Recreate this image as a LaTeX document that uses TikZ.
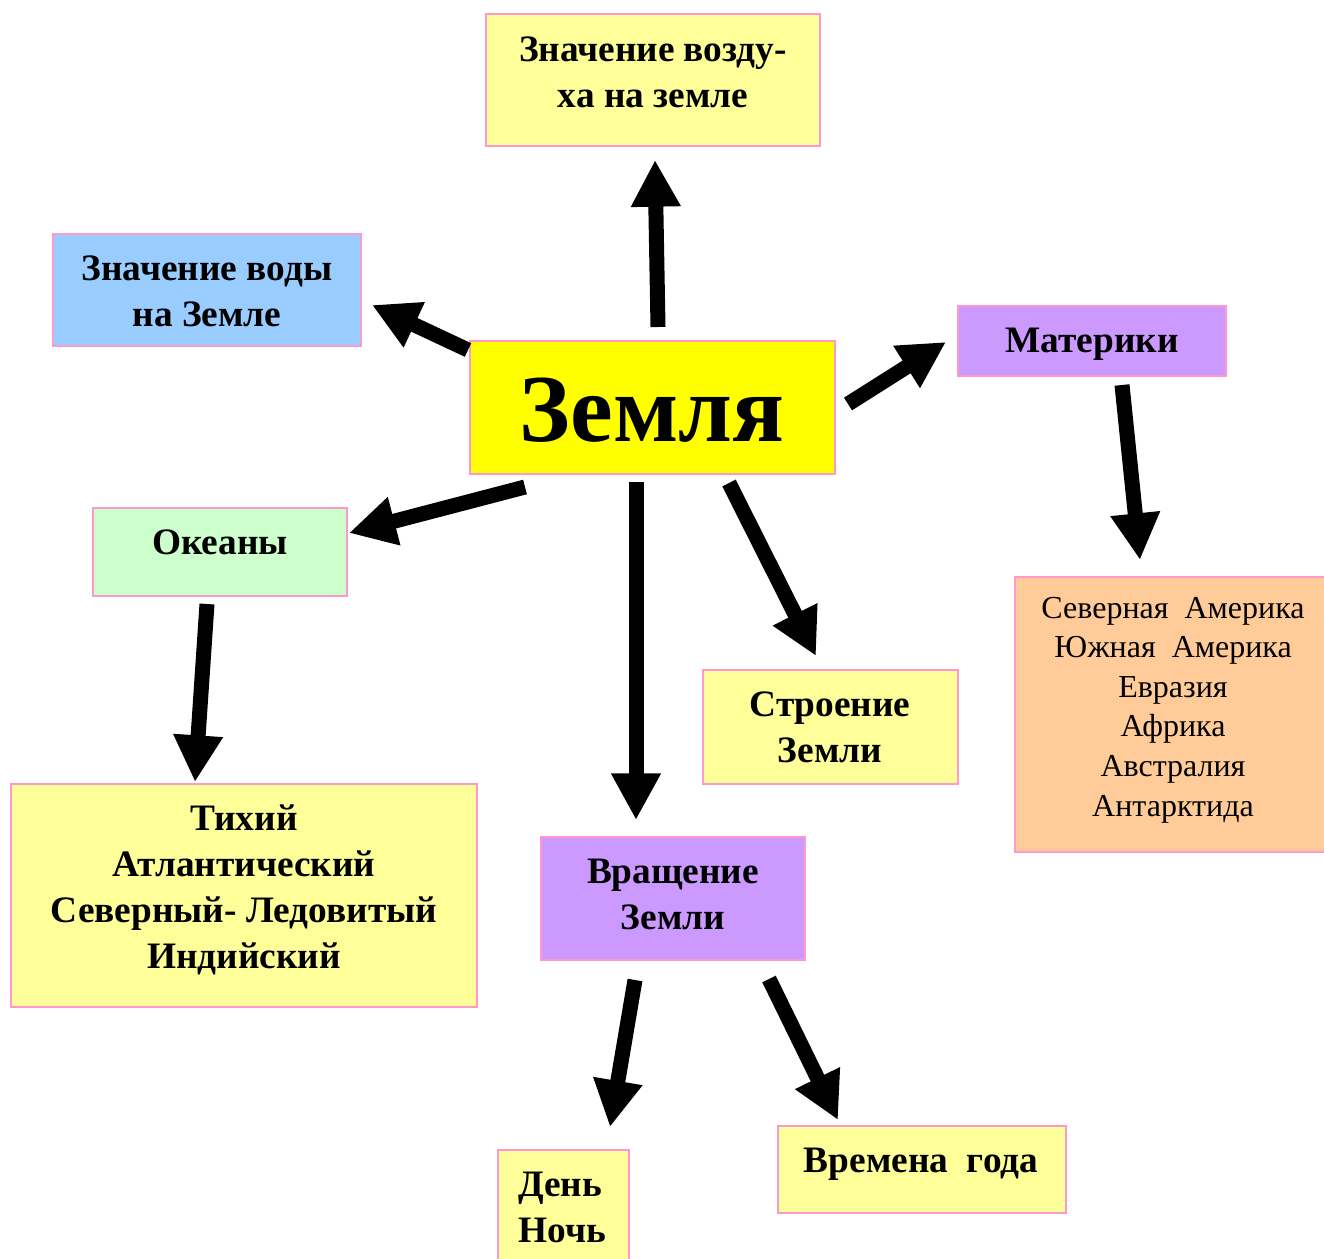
\documentclass[tikz,border=0pt]{standalone}
\usepackage{fontspec}
\setmainfont{Liberation Serif}
\usetikzlibrary{arrows.meta,fit}
\definecolor{pinkb}{HTML}{FF99CC}
\definecolor{lyellow}{HTML}{FFFF99}
\definecolor{lblue}{HTML}{99CCFF}
\definecolor{lviolet}{HTML}{CC99FF}
\definecolor{lorange}{HTML}{FFCC99}
\definecolor{lgreen}{HTML}{CCFFCC}
\definecolor{pyellow}{HTML}{FFFF00}
\tikzset{
  box/.style={draw=pinkb, line width=1.5pt, inner sep=0pt, fill=#1},
  bt/.style={font=\fontsize{28}{34.5}\selectfont\bfseries, align=center, inner sep=0pt},
  nt/.style={font=\fontsize{24}{29.7}\selectfont, align=center, inner sep=0pt},
  arr/.style={line width=11.25pt, -{Triangle[width=35pt,length=35pt]}}
}
\begin{document}
\begin{tikzpicture}[x=0.75pt,y=-0.75pt]
\useasboundingbox (0,0) rectangle (1324,1259);
% boxes
\node[box=lyellow, fit={(486,14) (820,146)}] (air) {};
\node[box=lblue, fit={(53,234) (361,346)}] (water) {};
\node[box=pyellow, fit={(470,341) (835,474)}] (earth) {};
\node[box=lviolet, fit={(958,306) (1226,376)}] (mat) {};
\node[box=lorange, fit={(1015,577) (1330,852)}] (cont) {};
\node[box=lgreen, fit={(93,508) (347,596)}] (oc) {};
\node[box=lyellow, fit={(11,784) (477,1007)}] (oclist) {};
\node[box=lyellow, fit={(703,670) (958,784)}] (str) {};
\node[box=lviolet, fit={(541,837) (805,960)}] (rot) {};
\node[box=lyellow, fit={(498,1150) (629,1265)}] (day) {};
\node[box=lyellow, fit={(778,1126) (1066,1213)}] (seas) {};
% texts
\node[bt] (airT) at (653,72) {Значение возду-\\ха на земле};
\node[bt] (waterT) at (207,291) {Значение воды\\на Земле};
\node[font=\fontsize{72}{80}\selectfont\bfseries, inner sep=0pt] (earthT) at (652,410) {Земля};
\node[bt] (matT) at (1092,344) {Материки};
\node[nt] (contT) at (1173,710) {Северная\ \ Америка\\Южная\ \ Америка\\Евразия\\Африка\\Австралия\\Антарктида};
\node[bt] (ocT) at (220,542) {Океаны};
\node[bt] (oclistT) at (244,890) {Тихий\\Атлантический\\Северный- Ледовитый\\Индийский};
\node[bt] (strT) at (830,727) {Строение\\Земли};
\node[bt] (rotT) at (673,894) {Вращение\\Земли};
\node[bt, align=left, anchor=west] (dayT) at (518,1207) {День\\Ночь};
\node[bt] (seasT) at (921,1164) {Времена\ \ года};
% arrow coordinates
\coordinate (a1s) at (658,327); \coordinate (a1e) at (655,160);
\coordinate (a2s) at (468,350); \coordinate (a2e) at (372,305);
\coordinate (a3s) at (848,404); \coordinate (a3e) at (946,342);
\coordinate (a4s) at (1122,385); \coordinate (a4e) at (1140,560);
\coordinate (a5s) at (525,487); \coordinate (a5e) at (349,533);
\coordinate (a6s) at (207,604); \coordinate (a6e) at (195,782);
\coordinate (a7s) at (636,482); \coordinate (a7e) at (636,820);
\coordinate (a8s) at (729,483); \coordinate (a8e) at (816,656);
\coordinate (a9s) at (635,980); \coordinate (a9e) at (610,1127);
\coordinate (a10s) at (769,979); \coordinate (a10e) at (838,1120);
\draw[arr] (a1s) -- (a1e);
\draw[arr] (a2s) -- (a2e);
\draw[arr] (a3s) -- (a3e);
\draw[arr] (a4s) -- (a4e);
\draw[arr] (a5s) -- (a5e);
\draw[arr] (a6s) -- (a6e);
\draw[arr] (a7s) -- (a7e);
\draw[arr] (a8s) -- (a8e);
\draw[arr] (a9s) -- (a9e);
\draw[arr] (a10s) -- (a10e);
\end{tikzpicture}
\end{document}
